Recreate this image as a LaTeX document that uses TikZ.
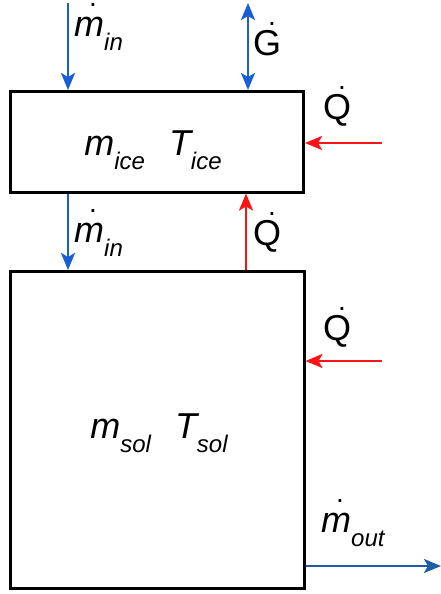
\documentclass[tikz,border=0pt]{standalone}
\usepackage{fontspec}
\setmainfont{Liberation Sans}
\usetikzlibrary{arrows.meta}
\definecolor{flowblue}{RGB}{26,94,214}
\definecolor{outblue}{RGB}{30,92,166}
\definecolor{heatred}{RGB}{250,20,20}
\newcommand\subtxt[1]{\raisebox{-14pt}{\fontsize{24}{28}\selectfont\itshape #1}}
\newcommand\dotover[1]{\makebox[0pt][l]{\hspace{15pt}\raisebox{30pt}{\fontsize{28}{28}\selectfont\upshape.}}#1}
\tikzset{
  box/.style={draw=black, line width=3pt, inner sep=0pt, fill=none},
  lbl/.style={inner sep=0pt, anchor=base west, font=\fontsize{36}{40}\selectfont},
  ctr/.style={inner sep=0pt, anchor=base, font=\fontsize{36}{40}\selectfont},
  tip/.style={-{Stealth[length=17pt,width=14pt,inset=4pt]}},
  bluearr/.style={tip, draw=flowblue, line width=2.6pt},
  redarr/.style={tip, draw=heatred, line width=2.6pt},
  outarr/.style={tip, draw=outblue, line width=2.2pt},
}
\begin{document}
\begin{tikzpicture}[x=1pt,y=-1pt]
\useasboundingbox[fill=white] (0,0) rectangle (441,594);
% boxes
\node[box, minimum width=293.5pt, minimum height=100.5pt] (ice) at (156.75,141.75) {};
\node[box, minimum width=294pt, minimum height=316.5pt] (sol) at (157,429.75) {};
% box texts
\node[ctr] (icetxt) at (153,155) {\itshape m\subtxt{ice}\hspace{24pt}T\subtxt{ice}};
\node[ctr] (soltxt) at (159,438) {\itshape m\subtxt{sol}\hspace{24pt}T\subtxt{sol}};
% free ends
\coordinate (minsrc) at (68,3);
\coordinate (gsrc) at (248,3);
\coordinate (qsrc1) at (382,143);
\coordinate (qsrc2) at (382,361);
\coordinate (mid1) at (68,0);
\coordinate (mid2) at (246,0);
\coordinate (outend) at (441,566);
\coordinate (outsrc) at (300,566);
% arrows
\draw[bluearr] (minsrc) -- (minsrc |- ice.north);
\draw[bluearr, {Stealth[length=17pt,width=14pt,inset=4pt]}-{Stealth[length=17pt,width=14pt,inset=4pt]}] (gsrc) -- (gsrc |- ice.north);
\draw[redarr] (qsrc1) -- (qsrc1 -| ice.east);
\draw[bluearr] (mid1 |- ice.south) -- (mid1 |- sol.north);
\draw[redarr] (mid2 |- sol.north) -- (mid2 |- ice.south);
\draw[redarr] (qsrc2) -- (qsrc2 -| sol.east);
\draw[outarr] (outsrc -| sol.east) -- (outend);
% labels
\node[lbl] (lmin1) at (74,37) {\itshape\dotover{m}\subtxt{in}};
\node[lbl] (lg) at (253,56) {\dotover{G}};
\node[lbl] (lq1) at (323,119) {\dotover{Q}};
\node[lbl] (lmin2) at (74,242) {\itshape\dotover{m}\subtxt{in}};
\node[lbl] (lq2) at (253,245) {\dotover{Q}};
\node[lbl] (lq3) at (323,340) {\dotover{Q}};
\node[lbl] (lmout) at (321,532) {\itshape\dotover{m}\subtxt{out}};
\end{tikzpicture}
\end{document}
